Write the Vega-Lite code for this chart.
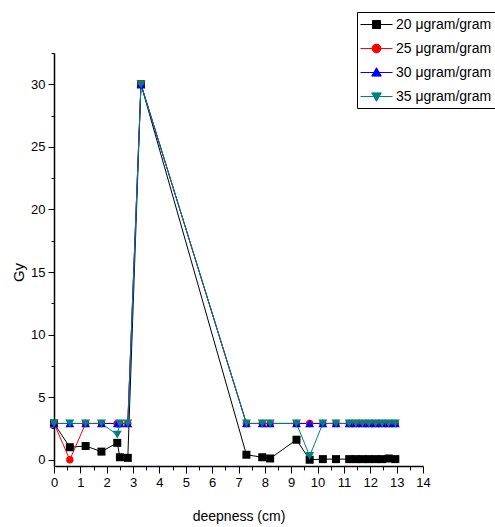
{
  "$schema": "https://vega.github.io/schema/vega-lite/v6.json",
  "width": 369,
  "height": 413,
  "autosize": {"type": "none"},
  "padding": {"left": 54, "top": 53, "right": 72, "bottom": 61},
  "background": "white",
  "config": {"view": {"stroke": null}, "font": "Liberation Sans"},
  "datasets": {
    "pts": [
      {"x": 0, "y": 2.9, "series": "20 μgram/gram"},
      {"x": 0.6, "y": 1.0, "series": "20 μgram/gram"},
      {"x": 1.2, "y": 1.1, "series": "20 μgram/gram"},
      {"x": 1.8, "y": 0.65, "series": "20 μgram/gram"},
      {"x": 2.4, "y": 1.35, "series": "20 μgram/gram"},
      {"x": 2.5, "y": 0.2, "series": "20 μgram/gram"},
      {"x": 2.8, "y": 0.15, "series": "20 μgram/gram"},
      {"x": 3.3, "y": 30, "series": "20 μgram/gram"},
      {"x": 7.3, "y": 0.4, "series": "20 μgram/gram"},
      {"x": 7.9, "y": 0.2, "series": "20 μgram/gram"},
      {"x": 8.2, "y": 0.1, "series": "20 μgram/gram"},
      {"x": 9.2, "y": 1.6, "series": "20 μgram/gram"},
      {"x": 9.7, "y": 0.0, "series": "20 μgram/gram"},
      {"x": 10.2, "y": 0.05, "series": "20 μgram/gram"},
      {"x": 10.7, "y": 0.05, "series": "20 μgram/gram"},
      {"x": 11.2, "y": 0.05, "series": "20 μgram/gram"},
      {"x": 11.45, "y": 0.05, "series": "20 μgram/gram"},
      {"x": 11.7, "y": 0.05, "series": "20 μgram/gram"},
      {"x": 11.95, "y": 0.05, "series": "20 μgram/gram"},
      {"x": 12.2, "y": 0.05, "series": "20 μgram/gram"},
      {"x": 12.45, "y": 0.05, "series": "20 μgram/gram"},
      {"x": 12.7, "y": 0.1, "series": "20 μgram/gram"},
      {"x": 12.95, "y": 0.05, "series": "20 μgram/gram"},

      {"x": 0, "y": 2.9, "series": "25 μgram/gram"},
      {"x": 0.6, "y": 0.0, "series": "25 μgram/gram"},
      {"x": 1.2, "y": 2.9, "series": "25 μgram/gram"},
      {"x": 1.8, "y": 2.9, "series": "25 μgram/gram"},
      {"x": 2.4, "y": 2.9, "series": "25 μgram/gram"},
      {"x": 2.5, "y": 2.9, "series": "25 μgram/gram"},
      {"x": 2.8, "y": 2.9, "series": "25 μgram/gram"},
      {"x": 3.3, "y": 30, "series": "25 μgram/gram"},
      {"x": 7.3, "y": 2.9, "series": "25 μgram/gram"},
      {"x": 7.9, "y": 2.9, "series": "25 μgram/gram"},
      {"x": 8.2, "y": 2.9, "series": "25 μgram/gram"},
      {"x": 9.2, "y": 2.9, "series": "25 μgram/gram"},
      {"x": 9.7, "y": 2.9, "series": "25 μgram/gram"},
      {"x": 10.2, "y": 2.9, "series": "25 μgram/gram"},
      {"x": 10.7, "y": 2.9, "series": "25 μgram/gram"},
      {"x": 11.2, "y": 2.9, "series": "25 μgram/gram"},
      {"x": 11.45, "y": 2.9, "series": "25 μgram/gram"},
      {"x": 11.7, "y": 2.9, "series": "25 μgram/gram"},
      {"x": 11.95, "y": 2.9, "series": "25 μgram/gram"},
      {"x": 12.2, "y": 2.9, "series": "25 μgram/gram"},
      {"x": 12.45, "y": 2.9, "series": "25 μgram/gram"},
      {"x": 12.7, "y": 2.9, "series": "25 μgram/gram"},
      {"x": 12.95, "y": 2.9, "series": "25 μgram/gram"},

      {"x": 0, "y": 2.9, "series": "30 μgram/gram"},
      {"x": 0.6, "y": 2.9, "series": "30 μgram/gram"},
      {"x": 1.2, "y": 2.9, "series": "30 μgram/gram"},
      {"x": 1.8, "y": 2.9, "series": "30 μgram/gram"},
      {"x": 2.4, "y": 2.9, "series": "30 μgram/gram"},
      {"x": 2.5, "y": 2.9, "series": "30 μgram/gram"},
      {"x": 2.8, "y": 2.9, "series": "30 μgram/gram"},
      {"x": 3.3, "y": 30, "series": "30 μgram/gram"},
      {"x": 7.3, "y": 2.9, "series": "30 μgram/gram"},
      {"x": 7.9, "y": 2.9, "series": "30 μgram/gram"},
      {"x": 8.2, "y": 2.9, "series": "30 μgram/gram"},
      {"x": 9.2, "y": 2.9, "series": "30 μgram/gram"},
      {"x": 9.7, "y": 2.9, "series": "30 μgram/gram"},
      {"x": 10.2, "y": 2.9, "series": "30 μgram/gram"},
      {"x": 10.7, "y": 2.9, "series": "30 μgram/gram"},
      {"x": 11.2, "y": 2.9, "series": "30 μgram/gram"},
      {"x": 11.45, "y": 2.9, "series": "30 μgram/gram"},
      {"x": 11.7, "y": 2.9, "series": "30 μgram/gram"},
      {"x": 11.95, "y": 2.9, "series": "30 μgram/gram"},
      {"x": 12.2, "y": 2.9, "series": "30 μgram/gram"},
      {"x": 12.45, "y": 2.9, "series": "30 μgram/gram"},
      {"x": 12.7, "y": 2.9, "series": "30 μgram/gram"},
      {"x": 12.95, "y": 2.9, "series": "30 μgram/gram"},

      {"x": 0, "y": 2.9, "series": "35 μgram/gram"},
      {"x": 0.6, "y": 2.9, "series": "35 μgram/gram"},
      {"x": 1.2, "y": 2.9, "series": "35 μgram/gram"},
      {"x": 1.8, "y": 2.9, "series": "35 μgram/gram"},
      {"x": 2.4, "y": 2.0, "series": "35 μgram/gram"},
      {"x": 2.5, "y": 2.9, "series": "35 μgram/gram"},
      {"x": 2.8, "y": 2.9, "series": "35 μgram/gram"},
      {"x": 3.3, "y": 30, "series": "35 μgram/gram"},
      {"x": 7.3, "y": 2.9, "series": "35 μgram/gram"},
      {"x": 7.9, "y": 2.9, "series": "35 μgram/gram"},
      {"x": 8.2, "y": 2.9, "series": "35 μgram/gram"},
      {"x": 9.2, "y": 2.9, "series": "35 μgram/gram"},
      {"x": 9.7, "y": 0.3, "series": "35 μgram/gram"},
      {"x": 10.2, "y": 2.9, "series": "35 μgram/gram"},
      {"x": 10.7, "y": 2.9, "series": "35 μgram/gram"},
      {"x": 11.2, "y": 2.9, "series": "35 μgram/gram"},
      {"x": 11.45, "y": 2.9, "series": "35 μgram/gram"},
      {"x": 11.7, "y": 2.9, "series": "35 μgram/gram"},
      {"x": 11.95, "y": 2.9, "series": "35 μgram/gram"},
      {"x": 12.2, "y": 2.9, "series": "35 μgram/gram"},
      {"x": 12.45, "y": 2.9, "series": "35 μgram/gram"},
      {"x": 12.7, "y": 2.9, "series": "35 μgram/gram"},
      {"x": 12.95, "y": 2.9, "series": "35 μgram/gram"}
    ]
  },
  "data": {"name": "pts"},
  "layer": [
    {
      "mark": {"type": "point", "filled": true, "opacity": 0},
      "encoding": {
        "x": {"field": "x", "type": "quantitative", "scale": {"domain": [0, 14], "nice": false, "zero": false},
          "axis": {"orient": "bottom", "values": [0.5,1.5,2.5,3.5,4.5,5.5,6.5,7.5,8.5,9.5,10.5,11.5,12.5,13.5], "tickSize": 4, "tickColor": "black", "tickWidth": 1, "labels": false, "domain": false, "grid": false, "title": null}},
        "y": {"field": "y", "type": "quantitative", "scale": {"domain": [-0.5, 32.5], "nice": false, "zero": false},
          "axis": {"orient": "left", "values": [2.5,7.5,12.5,17.5,22.5,27.5,32.5], "tickSize": 3, "tickColor": "black", "tickWidth": 1, "labels": false, "domain": false, "grid": false, "title": null}},
        "fill": {"field": "series", "type": "nominal",
          "scale": {"domain": ["20 μgram/gram","25 μgram/gram","30 μgram/gram","35 μgram/gram"], "range": ["#000000","#ff0000","#0000ff","#008080"]},
          "legend": {"title": null, "orient": "none", "legendX": 303, "legendY": -41, "strokeColor": "black", "fillColor": "white", "padding": 4, "symbolSize": 256, "symbolOffset": 7, "symbolStrokeWidth": 1, "symbolOpacity": 1, "labelFont": "Liberation Sans", "labelFontSize": 14, "labelColor": "black", "labelOffset": 11, "rowPadding": 8, "labelLimit": 300}},
        "stroke": {"field": "series", "type": "nominal",
          "scale": {"domain": ["20 μgram/gram","25 μgram/gram","30 μgram/gram","35 μgram/gram"], "range": ["#000000","#ff0000","#0000ff","#008080"]},
          "legend": {"title": null, "orient": "none", "legendX": 303, "legendY": -41, "strokeColor": "black", "fillColor": "white", "padding": 4, "symbolSize": 256, "symbolOffset": 7, "symbolStrokeWidth": 1, "symbolOpacity": 1, "labelFont": "Liberation Sans", "labelFontSize": 14, "labelColor": "black", "labelOffset": 11, "rowPadding": 8, "labelLimit": 300}},
        "shape": {"field": "series", "type": "nominal",
          "scale": {"domain": ["20 μgram/gram","25 μgram/gram","30 μgram/gram","35 μgram/gram"], "range": [
            "M-2,0H2M-0.5,-0.5H0.5V0.5H-0.5Z",
            "M-2,0H2M-0.55,0A0.55,0.55,0,1,0,0.55,0A0.55,0.55,0,1,0,-0.55,0Z",
            "M-2,0H2M0,-0.6L0.6,0.45L-0.6,0.45Z",
            "M-2,0H2M0,0.6L0.6,-0.45L-0.6,-0.45Z"]},
          "legend": {"title": null, "orient": "none", "legendX": 303, "legendY": -41, "strokeColor": "black", "fillColor": "white", "padding": 4, "symbolSize": 256, "symbolOffset": 7, "symbolStrokeWidth": 1, "symbolOpacity": 1, "labelFont": "Liberation Sans", "labelFontSize": 14, "labelColor": "black", "labelOffset": 11, "rowPadding": 8, "labelLimit": 300}}
      }
    },
    {
      "mark": {"type": "line", "strokeWidth": 1},
      "encoding": {
        "x": {"field": "x", "type": "quantitative",
          "axis": {"orient": "bottom", "values": [0,1,2,3,4,5,6,7,8,9,10,11,12,13,14], "tickSize": 7, "tickColor": "black", "tickWidth": 1, "domainColor": "black", "domainWidth": 1.5, "labelFont": "Liberation Sans", "labelFontSize": 13, "labelColor": "black", "labelPadding": 3, "labelFlush": false, "labelOverlap": false, "grid": false,
            "title": "deepness (cm)", "titleFont": "Liberation Sans", "titleFontSize": 14, "titleFontWeight": "normal", "titleColor": "black", "titleY": 50, "titleBaseline": "middle"}},
        "y": {"field": "y", "type": "quantitative",
          "axis": {"orient": "left", "values": [0,5,10,15,20,25,30], "tickSize": 6, "tickColor": "black", "tickWidth": 1, "domainColor": "black", "domainWidth": 1.5, "labelFont": "Liberation Sans", "labelFontSize": 13, "labelColor": "black", "labelPadding": 3, "labelFlush": false, "labelOverlap": false, "grid": false,
            "title": "Gy", "titleFont": "Liberation Sans", "titleFontSize": 15, "titleFontWeight": "normal", "titleColor": "black", "titleX": -36, "titleY": 219, "titleAngle": -90, "titleAlign": "center", "titleBaseline": "middle"}},
        "color": {"field": "series", "type": "nominal",
          "scale": {"domain": ["20 μgram/gram","25 μgram/gram","30 μgram/gram","35 μgram/gram"], "range": ["#000000","#ff0000","#0000ff","#008080"]},
          "legend": null}
      }
    },
    {
      "transform": [{"filter": "datum.series === '20 μgram/gram'"}],
      "mark": {"type": "point", "filled": true, "shape": "square", "size": 64, "opacity": 1},
      "encoding": {
        "x": {"field": "x", "type": "quantitative", "axis": null},
        "y": {"field": "y", "type": "quantitative", "axis": null},
        "color": {"field": "series", "type": "nominal", "legend": null}
      }
    },
    {
      "transform": [{"filter": "datum.series === '25 μgram/gram'"}],
      "mark": {"type": "point", "filled": true, "shape": "circle", "size": 55, "opacity": 1},
      "encoding": {
        "x": {"field": "x", "type": "quantitative", "axis": null},
        "y": {"field": "y", "type": "quantitative", "axis": null},
        "color": {"field": "series", "type": "nominal", "legend": null}
      }
    },
    {
      "transform": [{"filter": "datum.series === '30 μgram/gram'"}],
      "mark": {"type": "point", "filled": true, "shape": "triangle-up", "size": 80, "opacity": 1},
      "encoding": {
        "x": {"field": "x", "type": "quantitative", "axis": null},
        "y": {"field": "y", "type": "quantitative", "axis": null},
        "color": {"field": "series", "type": "nominal", "legend": null}
      }
    },
    {
      "transform": [{"filter": "datum.series === '35 μgram/gram'"}],
      "mark": {"type": "point", "filled": true, "shape": "triangle-down", "size": 80, "opacity": 1},
      "encoding": {
        "x": {"field": "x", "type": "quantitative", "axis": null},
        "y": {"field": "y", "type": "quantitative", "axis": null},
        "color": {"field": "series", "type": "nominal", "legend": null}
      }
    }
  ],
  "resolve": {"axis": {"x": "independent", "y": "independent"}}
}
